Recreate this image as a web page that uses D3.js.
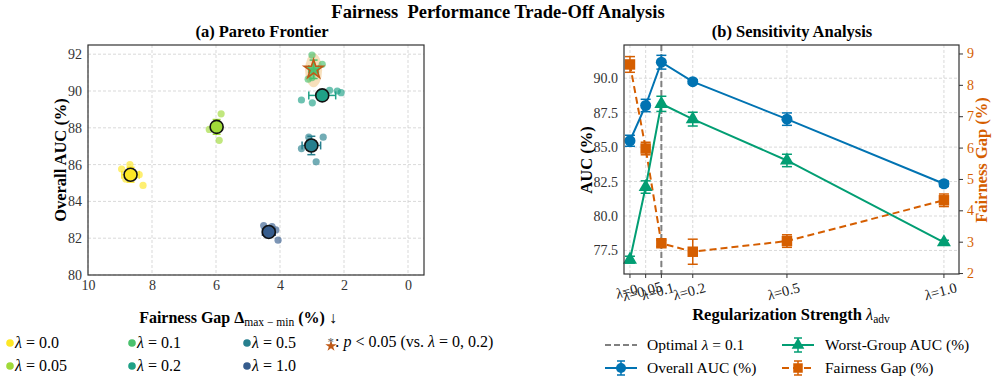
<!DOCTYPE html>
<html>
<head>
<meta charset="utf-8">
<script src="https://cdn.jsdelivr.net/npm/d3@7"></script>
<style>
  body { margin: 0; background: #fff; }
  text { font-family: "Liberation Serif", "Times New Roman", serif; }
</style>
</head>
<body>
<div id="chart"></div>
<script>
// ---- data ----
const lambdas = [0.0, 0.05, 0.1, 0.2, 0.5, 1.0];
const lambdaLabels = ['0.0', '0.05', '0.1', '0.2', '0.5', '1.0'];
const lambdaTickLabels = ['0', '0.05', '0.1', '0.2', '0.5', '1.0'];
const clusterColors = ['#fde725', '#a0da39', '#4ac16d', '#1fa187', '#277f8e', '#365c8d'];

// per-seed results (fairness gap %, overall AUC %)
const seedGap = [
  [8.95, 8.69, 8.40, 8.28, 8.82],
  [6.21, 5.84, 5.90, 6.06, 5.93],
  [3.00, 2.68, 3.12, 3.00, 2.95],
  [3.33, 2.99, 2.45, 2.21, 2.09],
  [3.10, 2.65, 3.33, 2.87, 3.05],
  [4.51, 4.06, 4.25, 4.13, 4.41]
];
const seedAuc = [
  [85.76, 86.00, 85.45, 84.87, 85.22],
  [87.91, 88.76, 87.32, 88.13, 88.18],
  [91.95, 91.45, 90.64, 90.73, 91.09],
  [89.51, 89.36, 90.04, 90.00, 89.91],
  [87.49, 87.49, 86.87, 86.15, 87.25],
  [82.69, 81.89, 82.63, 82.45, 82.18]
];
const meanGap = [8.67, 5.98, 2.95, 2.68, 3.02, 4.35];
const meanAuc = [85.45, 88.05, 91.18, 89.76, 87.04, 82.34];
const gapStd = [0.27, 0.15, 0.15, 0.42, 0.29, 0.20];
const aucStd = [0.40, 0.40, 0.50, 0.12, 0.50, 0.30];
const bestIndex = 2;

// sensitivity curves
const overallAuc = [85.46, 88.02, 91.16, 89.75, 87.03, 82.34];
const overallErr = [0.40, 0.45, 0.50, 0.15, 0.45, 0.20];
const worstAuc = [76.83, 82.10, 88.14, 87.03, 84.03, 78.09];
const worstErr = [0.25, 0.45, 0.55, 0.50, 0.45, 0.15];
const fairGap = [8.65, 5.97, 2.95, 2.68, 3.02, 4.32];
const fairErr = [0.25, 0.20, 0.10, 0.40, 0.20, 0.20];

const paretoXTicks = [10, 8, 6, 4, 2, 0];
const paretoYTicks = [80, 82, 84, 86, 88, 90, 92];
const aucTicks = [77.5, 80.0, 82.5, 85.0, 87.5, 90.0];
const gapTicks = [2, 3, 4, 5, 6, 7, 8, 9];

const blue = '#0173b2', green = '#029e73', orange = '#d55e00';

const svg = d3.select('#chart').append('svg')
  .attr('width', 997).attr('height', 390)
  .style('background', '#fff');

// titles
svg.append('text').attr('x', 498).attr('y', 18).attr('text-anchor', 'middle')
  .attr('font-size', 18.5).attr('font-weight', 'bold')
  .text('Fairness\u2002Performance Trade-Off Analysis');
svg.append('text').attr('x', 262).attr('y', 37).attr('text-anchor', 'middle')
  .attr('font-size', 16.5).attr('font-weight', 'bold').text('(a) Pareto Frontier');
svg.append('text').attr('x', 792).attr('y', 37).attr('text-anchor', 'middle')
  .attr('font-size', 16.5).attr('font-weight', 'bold').text('(b) Sensitivity Analysis');

// draw an error bar with caps
function errBar(g, x0, y0, x1, y1, color, cap, width) {
  g.append('line').attr('x1', x0).attr('y1', y0).attr('x2', x1).attr('y2', y1)
    .attr('stroke', color).attr('stroke-width', width);
  const vertical = x0 === x1;
  [[x0, y0], [x1, y1]].forEach(([x, y]) => {
    g.append('line')
      .attr('x1', vertical ? x - cap : x).attr('x2', vertical ? x + cap : x)
      .attr('y1', vertical ? y : y - cap).attr('y2', vertical ? y : y + cap)
      .attr('stroke', color).attr('stroke-width', width);
  });
}

// ================= (a) Pareto Frontier =================
const xL = d3.scaleLinear().domain([10, -0.5]).range([88, 424]);
const yL = d3.scaleLinear().domain([80, 92.5]).range([275, 45]);
const gL = svg.append('g');

gL.append('g').selectAll('line').data(paretoXTicks).join('line')
  .attr('x1', d => xL(d)).attr('x2', d => xL(d)).attr('y1', 45).attr('y2', 275)
  .attr('stroke', '#cfcfcf').attr('stroke-width', 0.8).attr('stroke-dasharray', '3,2');
gL.append('g').selectAll('line').data(paretoYTicks).join('line')
  .attr('x1', 88).attr('x2', 424).attr('y1', d => yL(d)).attr('y2', d => yL(d))
  .attr('stroke', '#cfcfcf').attr('stroke-width', 0.8).attr('stroke-dasharray', '3,2');

const axL = gL.append('g').attr('transform', 'translate(88,0)')
  .call(d3.axisLeft(yL).tickValues(paretoYTicks).tickSize(0).tickPadding(6).tickFormat(d3.format('d')));
const axB = gL.append('g').attr('transform', 'translate(0,275)')
  .call(d3.axisBottom(xL).tickValues(paretoXTicks).tickSize(0).tickPadding(5).tickFormat(d3.format('d')));
[axL, axB].forEach(a => {
  a.select('.domain').remove();
  a.selectAll('text').attr('font-size', 14).attr('fill', '#333')
    .attr('font-family', '"Liberation Serif", serif');
});

// highlight ellipse around best lambda
gL.append('ellipse')
  .attr('cx', xL(meanGap[bestIndex])).attr('cy', yL(meanAuc[bestIndex]) + 1)
  .attr('rx', 8.5).attr('ry', 17)
  .attr('fill', '#eeb868').attr('opacity', 0.45);

// seeds
lambdas.forEach((l, i) => {
  gL.append('g').selectAll('circle').data(seedGap[i]).join('circle')
    .attr('cx', d => xL(d)).attr('cy', (d, j) => yL(seedAuc[i][j]))
    .attr('r', 3.6).attr('fill', clusterColors[i]).attr('opacity', 0.65);
});

// means with error bars
lambdas.forEach((l, i) => {
  const c = clusterColors[i];
  const cx = xL(meanGap[i]), cy = yL(meanAuc[i]);
  errBar(gL, xL(meanGap[i] + gapStd[i]), cy, xL(meanGap[i] - gapStd[i]), cy, c, 4, 1.5);
  errBar(gL, cx, yL(meanAuc[i] + aucStd[i]), cx, yL(meanAuc[i] - aucStd[i]), c, 4, 1.5);
  if (i === bestIndex) {
    gL.append('path').attr('d', d3.symbol(d3.symbolStar, 110)())
      .attr('transform', `translate(${cx},${cy})`)
      .attr('fill', c).attr('fill-opacity', 0.85)
      .attr('stroke', '#c05a17').attr('stroke-width', 1.6);
  } else {
    gL.append('circle').attr('cx', cx).attr('cy', cy).attr('r', 6.5)
      .attr('fill', c).attr('stroke', '#111').attr('stroke-width', 1.6);
  }
});

gL.append('rect').attr('x', 88).attr('y', 45).attr('width', 336).attr('height', 230)
  .attr('fill', 'none').attr('stroke', '#333').attr('stroke-width', 1.2);

// axis labels
svg.append('text').attr('transform', 'translate(66,160) rotate(-90)')
  .attr('text-anchor', 'middle').attr('font-size', 16.5).attr('font-weight', 'bold')
  .text('Overall AUC (%)');
const xlab = svg.append('text').attr('x', 238).attr('y', 323).attr('text-anchor', 'middle')
  .attr('font-size', 16).attr('font-weight', 'bold');
xlab.append('tspan').text('Fairness Gap \u0394');
xlab.append('tspan').attr('font-size', 11.5).attr('font-weight', 'normal').attr('dy', 3).text('max \u2212 min');
xlab.append('tspan').attr('dy', -3).text(' (%) \u2193');

// left legend
const legPos = [[10, 347], [10, 370], [132, 347], [132, 370], [247, 347], [247, 370]];
lambdaLabels.forEach((lab, i) => {
  const [x, y] = legPos[i];
  svg.append('circle').attr('cx', x).attr('cy', y - 4).attr('r', 3.8).attr('fill', clusterColors[i]);
  const t = svg.append('text').attr('x', x + 5).attr('y', y + 1).attr('font-size', 16);
  t.append('tspan').attr('font-style', 'italic').text('\u03bb');
  t.append('tspan').text(' = ' + lab);
});
svg.append('path').attr('d', d3.symbol(d3.symbolStar, 40)())
  .attr('transform', 'translate(331,346)').attr('fill', '#c05a17');
svg.append('text').attr('x', 327.5).attr('y', 346).attr('font-size', 13).attr('fill', '#666').text('*');
const pt = svg.append('text').attr('x', 335).attr('y', 347).attr('font-size', 16);
pt.append('tspan').text(': ');
pt.append('tspan').attr('font-style', 'italic').text('p');
pt.append('tspan').text(' < 0.05 (vs. ');
pt.append('tspan').attr('font-style', 'italic').text('\u03bb');
pt.append('tspan').text(' = 0, 0.2)');

// ================= (b) Sensitivity Analysis =================
const xR = d3.scaleLinear().domain([-0.019, 1.048]).range([624, 959]);
const yR = d3.scaleLinear().domain([75.79, 92.41]).range([274, 45]);
const yG = d3.scaleLinear().domain([1.97, 9.27]).range([274, 45]);
const gR = svg.append('g');

gR.append('g').selectAll('line').data(lambdas).join('line')
  .attr('x1', d => xR(d)).attr('x2', d => xR(d)).attr('y1', 45).attr('y2', 274)
  .attr('stroke', '#cfcfcf').attr('stroke-width', 0.8).attr('stroke-dasharray', '3,2');
gR.append('g').selectAll('line').data(aucTicks).join('line')
  .attr('x1', 624).attr('x2', 959).attr('y1', d => yR(d)).attr('y2', d => yR(d))
  .attr('stroke', '#cfcfcf').attr('stroke-width', 0.8).attr('stroke-dasharray', '3,2');

const axRL = gR.append('g').attr('transform', 'translate(624,0)')
  .call(d3.axisLeft(yR).tickValues(aucTicks).tickSize(0).tickPadding(6).tickFormat(d3.format('.1f')));
axRL.select('.domain').remove();
axRL.selectAll('text').attr('font-size', 14).attr('fill', '#333').attr('font-family', '"Liberation Serif", serif');

const axRR = gR.append('g').attr('transform', 'translate(959,0)')
  .call(d3.axisRight(yG).tickValues(gapTicks).tickSize(4).tickPadding(4).tickFormat(d3.format('d')));
axRR.select('.domain').remove();
axRR.selectAll('line').attr('stroke', '#333');
axRR.selectAll('text').attr('font-size', 14).attr('fill', orange).attr('font-family', '"Liberation Serif", serif');

// x tick labels rotated
const xt = gR.append('g').selectAll('text').data(lambdas).join('text')
  .attr('transform', d => `translate(${xR(d) - 2},296) rotate(-15)`)
  .attr('text-anchor', 'middle').attr('font-size', 14.5).attr('fill', '#222');
xt.append('tspan').attr('font-style', 'italic').text('\u03bb');
xt.append('tspan').text((d, i) => '=' + lambdaTickLabels[i]);
gR.append('g').selectAll('line').data(lambdas).join('line')
  .attr('x1', d => xR(d)).attr('x2', d => xR(d)).attr('y1', 274).attr('y2', 278)
  .attr('stroke', '#333');

// optimal lambda line
gR.append('line').attr('x1', xR(0.1)).attr('x2', xR(0.1)).attr('y1', 45).attr('y2', 274)
  .attr('stroke', '#808080').attr('stroke-width', 2).attr('stroke-dasharray', '6,3');

const line = (scale, vals) => d3.line().x((d, i) => xR(lambdas[i])).y(d => scale(d))(vals);

gR.append('path').attr('d', line(yG, fairGap)).attr('fill', 'none')
  .attr('stroke', orange).attr('stroke-width', 2).attr('stroke-dasharray', '7,4');
gR.append('path').attr('d', line(yR, worstAuc)).attr('fill', 'none')
  .attr('stroke', green).attr('stroke-width', 2);
gR.append('path').attr('d', line(yR, overallAuc)).attr('fill', 'none')
  .attr('stroke', blue).attr('stroke-width', 2);

lambdas.forEach((l, i) => {
  const x = xR(l);
  errBar(gR, x, yG(fairGap[i] + fairErr[i]), x, yG(fairGap[i] - fairErr[i]), orange, 5, 1.5);
  errBar(gR, x, yR(worstAuc[i] + worstErr[i]), x, yR(worstAuc[i] - worstErr[i]), green, 5, 1.5);
  errBar(gR, x, yR(overallAuc[i] + overallErr[i]), x, yR(overallAuc[i] - overallErr[i]), blue, 5, 1.5);
  gR.append('path').attr('d', d3.symbol(d3.symbolSquare, 110)())
    .attr('transform', `translate(${x},${yG(fairGap[i])})`).attr('fill', orange);
  gR.append('path').attr('d', d3.symbol(d3.symbolTriangle, 85)())
    .attr('transform', `translate(${x},${yR(worstAuc[i])})`).attr('fill', green);
  gR.append('circle').attr('cx', x).attr('cy', yR(overallAuc[i])).attr('r', 5.5).attr('fill', blue);
});

gR.append('rect').attr('x', 624).attr('y', 45).attr('width', 335).attr('height', 229)
  .attr('fill', 'none').attr('stroke', '#333').attr('stroke-width', 1.2);

svg.append('text').attr('transform', 'translate(592,160) rotate(-90)')
  .attr('text-anchor', 'middle').attr('font-size', 16.5).attr('font-weight', 'bold').text('AUC (%)');
svg.append('text').attr('transform', 'translate(987,160) rotate(-90)')
  .attr('text-anchor', 'middle').attr('font-size', 16.5).attr('font-weight', 'bold')
  .attr('fill', orange).text('Fairness Gap (%)');
const rxl = svg.append('text').attr('x', 791).attr('y', 320).attr('text-anchor', 'middle')
  .attr('font-size', 16.5).attr('font-weight', 'bold');
rxl.append('tspan').text('Regularization Strength ');
rxl.append('tspan').attr('font-style', 'italic').attr('font-weight', 'normal').text('\u03bb');
rxl.append('tspan').attr('font-size', 11.5).attr('font-weight', 'normal').attr('dy', 3).text('adv');

// right legend
const leg = svg.append('g');
function legLine(x, y, color, dash) {
  leg.append('line').attr('x1', x).attr('x2', x + 32).attr('y1', y).attr('y2', y)
    .attr('stroke', color).attr('stroke-width', 2).attr('stroke-dasharray', dash);
}
function legText(x, y, parts) {
  const t = leg.append('text').attr('x', x).attr('y', y + 5).attr('font-size', 15.5);
  parts.forEach(([s, it]) => t.append('tspan').attr('font-style', it ? 'italic' : 'normal').text(s));
}
legLine(605, 345, '#808080', '6,3');
legText(647, 345, [['Optimal ', false], ['\u03bb', true], [' = 0.1', false]]);
legLine(605, 368, blue, null);
errBar(leg, 621, 361, 621, 375, blue, 4, 1.5);
leg.append('circle').attr('cx', 621).attr('cy', 368).attr('r', 5).attr('fill', blue);
legText(647, 368, [['Overall AUC (%)', false]]);
legLine(782, 345, green, null);
errBar(leg, 798, 338, 798, 352, green, 4, 1.5);
leg.append('path').attr('d', d3.symbol(d3.symbolTriangle, 70)()).attr('transform', 'translate(798,345)').attr('fill', green);
legText(825, 345, [['Worst-Group AUC (%)', false]]);
legLine(782, 368, orange, '7,4');
errBar(leg, 798, 361, 798, 375, orange, 4, 1.5);
leg.append('path').attr('d', d3.symbol(d3.symbolSquare, 90)()).attr('transform', 'translate(798,368)').attr('fill', orange);
legText(825, 368, [['Fairness Gap (%)', false]]);
</script>
</body>
</html>
